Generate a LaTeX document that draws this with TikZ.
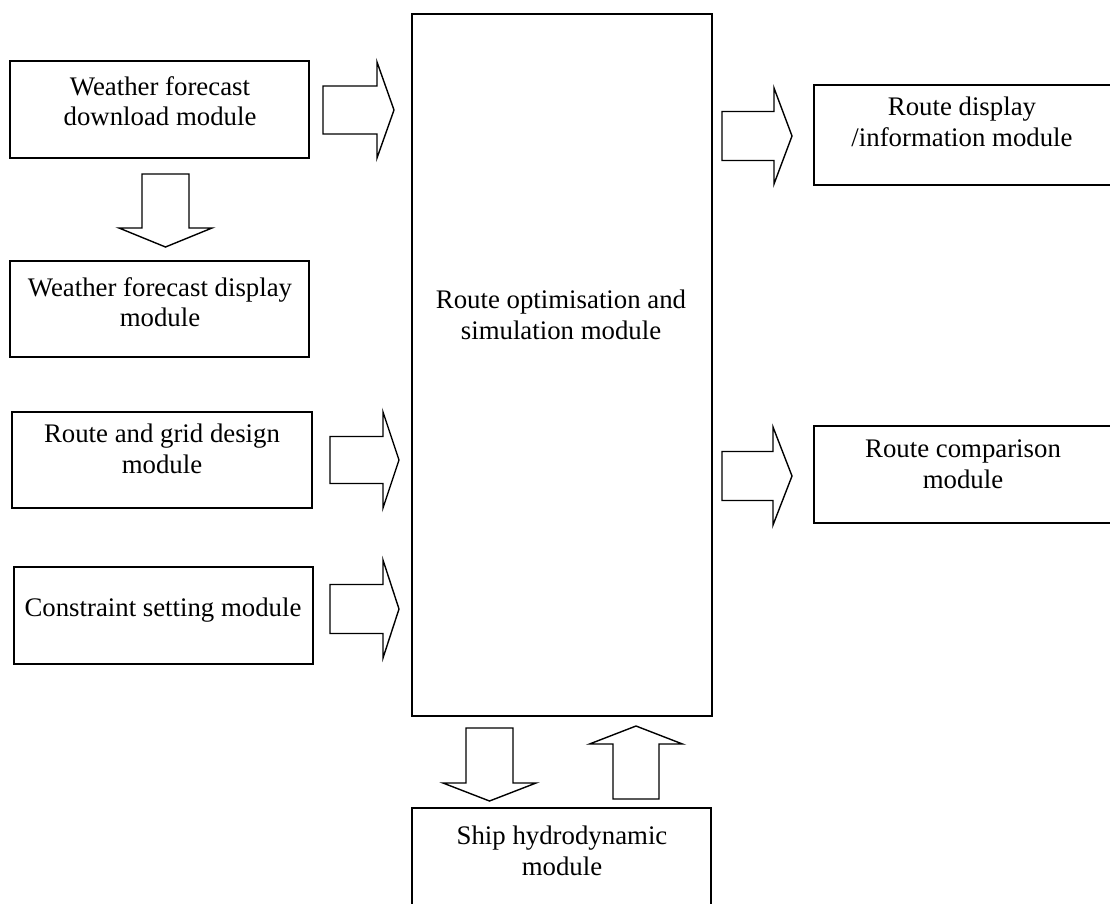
\documentclass[tikz,border=0pt]{standalone}
\usepackage{fontspec}
\setmainfont{Liberation Serif}
\begin{document}
\begin{tikzpicture}[x=1pt,y=-1pt,
  box/.style={draw,line width=1.4pt,rectangle,inner sep=0pt,outer sep=0pt},
  lbl/.style={align=center,inner sep=0pt,font=\fontsize{26.8}{30.5}\selectfont},
  blockarrow/.style={draw,line width=1.4pt,line join=miter,fill=white}]
\useasboundingbox (0,0) rectangle (1110,903);
\clip (0,0) rectangle (1110,903);
% boxes: corners
\newcommand{\boxat}[5]{\node[box,minimum width={#4-#2},minimum height={#5-#3}] (#1) at ({(#2+#4)/2},{(#3+#5)/2}) {};}
\boxat{wfd}{10}{61}{309}{158}
\boxat{wfdisp}{10}{261}{309}{357}
\boxat{rg}{12}{412}{312}{508}
\boxat{cs}{14}{567}{313}{664}
\boxat{main}{412}{14}{712}{716}
\boxat{rd}{814}{85}{1130}{185}
\boxat{rc}{814}{426}{1130}{523}
\boxat{ship}{412}{808}{711}{930}
% labels
\node[lbl] (wfdT) at (160,101) {Weather forecast\\download module};
\node[lbl] (wfdispT) at (160,302) {Weather forecast display\\module};
\node[lbl] (rgT) at (162,449) {Route and grid design\\module};
\node[lbl] (csT) at (163,610) {Constraint setting module};
\node[lbl] (mainT) at (561,315) {Route optimisation and\\simulation module};
\node[lbl] (rdT) at (962,122) {Route display\\/information module};
\node[lbl] (rcT) at (963,464) {Route comparison\\module};
\node[lbl] (shipT) at (562,851) {Ship hydrodynamic\\module};
% right block arrows: x1 shaft left, x2 head base, x3 tip, c centre, h shaft half, H head half
\newcommand{\rarrow}[6]{\draw[blockarrow] (#1,#4-#5) -- (#2,#4-#5) -- (#2,#4-#6) -- (#3,#4) -- (#2,#4+#6) -- (#2,#4+#5) -- (#1,#4+#5) -- cycle;}
% vertical block arrows: c centre x, y1 shaft end, y2 head base, y3 tip, h shaft half, H head half
\newcommand{\varrow}[6]{\draw[blockarrow] (#1-#5,#2) -- (#1-#5,#3) -- (#1-#6,#3) -- (#1,#4) -- (#1+#6,#3) -- (#1+#5,#3) -- (#1+#5,#2) -- cycle;}
\rarrow{323}{377}{394}{110}{24}{48}
\rarrow{330}{383}{399}{460}{23.5}{48}
\rarrow{330}{383}{399}{609}{24.5}{49}
\rarrow{722}{774}{792}{136}{24.5}{48}
\rarrow{722}{773}{792}{476}{24.5}{49}
\varrow{165.5}{174}{228}{247}{23.5}{46.5}
\varrow{489.5}{728}{783}{801}{23.5}{46.5}
\varrow{636}{799}{744}{726}{23}{46.5}
\end{tikzpicture}
\end{document}
